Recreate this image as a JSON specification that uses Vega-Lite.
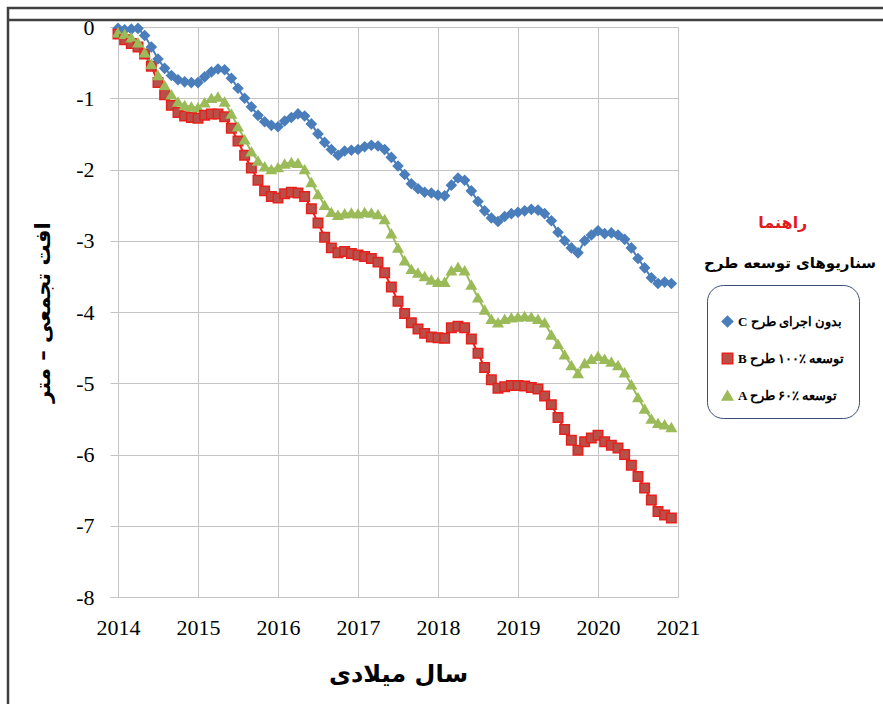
{
  "$schema": "https://vega.github.io/schema/vega-lite/v6.json",
  "autosize": {"type": "none"},
  "width": 560,
  "height": 570,
  "padding": {"left": 118, "top": 27, "right": 205, "bottom": 107},
  "background": "white",
  "config": {
    "view": {"stroke": null},
    "axis": {"labelFont": "Liberation Serif", "labelFontSize": 22, "labelColor": "#000", "grid": true, "gridColor": "#c4c4c4", "gridWidth": 1, "domain": false, "labelFlush": false},
    "legend": {"orient": "none", "legendX": 589, "legendY": 258, "strokeColor": "#3b4f72", "cornerRadius": 16, "padding": 14, "fillColor": "#fff", "rowPadding": 20, "labelFont": "Liberation Serif", "labelFontSize": 13, "labelFontWeight": "bold", "labelColor": "#000", "labelLimit": 200, "symbolSize": 110, "symbolStrokeWidth": 1.5, "titleFontSize": 8, "titlePadding": 8}
  },
  "data": {"values": [
    {"t":2014.000,"C":-0.02,"B":-0.10,"A":-0.08},
    {"t":2014.083,"C":-0.04,"B":-0.18,"A":-0.10},
    {"t":2014.167,"C":-0.03,"B":-0.23,"A":-0.15},
    {"t":2014.250,"C":-0.02,"B":-0.28,"A":-0.22},
    {"t":2014.333,"C":-0.12,"B":-0.38,"A":-0.36},
    {"t":2014.417,"C":-0.28,"B":-0.55,"A":-0.52},
    {"t":2014.500,"C":-0.45,"B":-0.78,"A":-0.68},
    {"t":2014.583,"C":-0.58,"B":-0.95,"A":-0.82},
    {"t":2014.667,"C":-0.68,"B":-1.10,"A":-0.95},
    {"t":2014.750,"C":-0.74,"B":-1.20,"A":-1.05},
    {"t":2014.833,"C":-0.77,"B":-1.25,"A":-1.10},
    {"t":2014.917,"C":-0.78,"B":-1.27,"A":-1.12},
    {"t":2015.000,"C":-0.78,"B":-1.28,"A":-1.13},
    {"t":2015.083,"C":-0.70,"B":-1.24,"A":-1.06},
    {"t":2015.167,"C":-0.63,"B":-1.22,"A":-1.00},
    {"t":2015.250,"C":-0.59,"B":-1.22,"A":-0.98},
    {"t":2015.333,"C":-0.60,"B":-1.26,"A":-1.05},
    {"t":2015.417,"C":-0.72,"B":-1.42,"A":-1.22},
    {"t":2015.500,"C":-0.86,"B":-1.60,"A":-1.40},
    {"t":2015.583,"C":-1.00,"B":-1.80,"A":-1.58},
    {"t":2015.667,"C":-1.12,"B":-1.98,"A":-1.75},
    {"t":2015.750,"C":-1.24,"B":-2.15,"A":-1.88},
    {"t":2015.833,"C":-1.33,"B":-2.30,"A":-1.96},
    {"t":2015.917,"C":-1.38,"B":-2.38,"A":-2.00},
    {"t":2016.000,"C":-1.40,"B":-2.40,"A":-1.97},
    {"t":2016.083,"C":-1.32,"B":-2.34,"A":-1.92},
    {"t":2016.167,"C":-1.27,"B":-2.32,"A":-1.90},
    {"t":2016.250,"C":-1.22,"B":-2.33,"A":-1.91},
    {"t":2016.333,"C":-1.25,"B":-2.38,"A":-2.00},
    {"t":2016.417,"C":-1.36,"B":-2.55,"A":-2.18},
    {"t":2016.500,"C":-1.50,"B":-2.75,"A":-2.35},
    {"t":2016.583,"C":-1.62,"B":-2.95,"A":-2.50},
    {"t":2016.667,"C":-1.72,"B":-3.10,"A":-2.60},
    {"t":2016.750,"C":-1.80,"B":-3.17,"A":-2.64},
    {"t":2016.833,"C":-1.74,"B":-3.15,"A":-2.62},
    {"t":2016.917,"C":-1.73,"B":-3.18,"A":-2.61},
    {"t":2017.000,"C":-1.72,"B":-3.20,"A":-2.62},
    {"t":2017.083,"C":-1.68,"B":-3.22,"A":-2.60},
    {"t":2017.167,"C":-1.66,"B":-3.25,"A":-2.61},
    {"t":2017.250,"C":-1.67,"B":-3.30,"A":-2.63},
    {"t":2017.333,"C":-1.72,"B":-3.45,"A":-2.70},
    {"t":2017.417,"C":-1.83,"B":-3.65,"A":-2.90},
    {"t":2017.500,"C":-1.95,"B":-3.85,"A":-3.10},
    {"t":2017.583,"C":-2.07,"B":-4.02,"A":-3.28},
    {"t":2017.667,"C":-2.20,"B":-4.15,"A":-3.40},
    {"t":2017.750,"C":-2.27,"B":-4.24,"A":-3.45},
    {"t":2017.833,"C":-2.32,"B":-4.30,"A":-3.50},
    {"t":2017.917,"C":-2.33,"B":-4.35,"A":-3.55},
    {"t":2018.000,"C":-2.36,"B":-4.36,"A":-3.58},
    {"t":2018.083,"C":-2.37,"B":-4.37,"A":-3.58},
    {"t":2018.167,"C":-2.22,"B":-4.22,"A":-3.42},
    {"t":2018.250,"C":-2.12,"B":-4.20,"A":-3.37},
    {"t":2018.333,"C":-2.15,"B":-4.22,"A":-3.42},
    {"t":2018.417,"C":-2.30,"B":-4.38,"A":-3.62},
    {"t":2018.500,"C":-2.45,"B":-4.58,"A":-3.80},
    {"t":2018.583,"C":-2.58,"B":-4.78,"A":-3.97},
    {"t":2018.667,"C":-2.68,"B":-4.95,"A":-4.10},
    {"t":2018.750,"C":-2.73,"B":-5.07,"A":-4.15},
    {"t":2018.833,"C":-2.66,"B":-5.05,"A":-4.10},
    {"t":2018.917,"C":-2.62,"B":-5.03,"A":-4.08},
    {"t":2019.000,"C":-2.60,"B":-5.03,"A":-4.07},
    {"t":2019.083,"C":-2.58,"B":-5.04,"A":-4.06},
    {"t":2019.167,"C":-2.56,"B":-5.06,"A":-4.07},
    {"t":2019.250,"C":-2.57,"B":-5.08,"A":-4.10},
    {"t":2019.333,"C":-2.62,"B":-5.18,"A":-4.15},
    {"t":2019.417,"C":-2.72,"B":-5.30,"A":-4.32},
    {"t":2019.500,"C":-2.88,"B":-5.48,"A":-4.45},
    {"t":2019.583,"C":-3.00,"B":-5.65,"A":-4.60},
    {"t":2019.667,"C":-3.10,"B":-5.80,"A":-4.75},
    {"t":2019.750,"C":-3.17,"B":-5.94,"A":-4.86},
    {"t":2019.833,"C":-3.00,"B":-5.82,"A":-4.72},
    {"t":2019.917,"C":-2.92,"B":-5.77,"A":-4.66},
    {"t":2020.000,"C":-2.86,"B":-5.73,"A":-4.62},
    {"t":2020.083,"C":-2.90,"B":-5.82,"A":-4.66},
    {"t":2020.167,"C":-2.89,"B":-5.87,"A":-4.70},
    {"t":2020.250,"C":-2.92,"B":-5.91,"A":-4.75},
    {"t":2020.333,"C":-2.98,"B":-6.00,"A":-4.85},
    {"t":2020.417,"C":-3.10,"B":-6.15,"A":-5.02},
    {"t":2020.500,"C":-3.25,"B":-6.31,"A":-5.20},
    {"t":2020.583,"C":-3.38,"B":-6.47,"A":-5.36},
    {"t":2020.667,"C":-3.52,"B":-6.64,"A":-5.50},
    {"t":2020.750,"C":-3.60,"B":-6.80,"A":-5.56},
    {"t":2020.833,"C":-3.58,"B":-6.85,"A":-5.58},
    {"t":2020.917,"C":-3.60,"B":-6.89,"A":-5.62}
  ]},
  "layer": [
    {
      "transform": [{"fold": ["C", "B", "A"], "as": ["s", "v"]}],
      "layer": [
        {
          "mark": {"type": "line", "strokeWidth": 2},
          "encoding": {
            "x": {"field": "t", "type": "quantitative", "scale": {"domain": [2014, 2021], "nice": false, "zero": false},
                  "axis": {"grid": true, "values": [2014,2015,2016,2017,2018,2019,2020,2021], "labelExpr": "'' + datum.value", "ticks": false, "labelPadding": 20, "title": "سال میلادی", "titleFont": "DejaVu Sans", "titleFontSize": 24, "titleFontWeight": "bold", "titleColor": "#000", "titlePadding": 24}},
            "y": {"field": "v", "type": "quantitative", "scale": {"domain": [-8, 0], "nice": false, "zero": false},
                  "axis": {"grid": true, "values": [0,-1,-2,-3,-4,-5,-6,-7,-8], "labelExpr": "'' + datum.value", "ticks": true, "tickSize": 8, "tickColor": "#c4c4c4", "labelPadding": 16, "title": "افت تجمعی – متر", "titleFont": "DejaVu Sans", "titleFontSize": 21, "titleFontWeight": "bold", "titleColor": "#000", "titlePadding": 22}},
            "stroke": {"field": "s", "type": "nominal", "scale": {"domain": ["C", "B", "A"], "range": ["#4a7ebb", "#e8201c", "#9bbb59"]},
                       "legend": {"title": " ", "labelExpr": "datum.label == 'C' ? 'C بدون اجرای طرح' : datum.label == 'B' ? 'B توسعه ٪۱۰۰ طرح' : 'A توسعه ٪۶۰ طرح'"}}
          }
        },
        {
          "mark": {"type": "point", "filled": true, "size": 90, "strokeWidth": 1.5, "opacity": 1},
          "encoding": {
            "x": {"field": "t", "type": "quantitative"},
            "y": {"field": "v", "type": "quantitative"},
            "stroke": {"field": "s", "type": "nominal"},
            "fill": {"field": "s", "type": "nominal", "scale": {"domain": ["C", "B", "A"], "range": ["#4a7ebb", "#b8504a", "#9bbb59"]},
                     "legend": {"title": " ", "labelExpr": "datum.label == 'C' ? 'C بدون اجرای طرح' : datum.label == 'B' ? 'B توسعه ٪۱۰۰ طرح' : 'A توسعه ٪۶۰ طرح'"}},
            "shape": {"field": "s", "type": "nominal", "scale": {"domain": ["C", "B", "A"], "range": ["diamond", "square", "triangle-up"]},
                      "legend": {"title": " ", "labelExpr": "datum.label == 'C' ? 'C بدون اجرای طرح' : datum.label == 'B' ? 'B توسعه ٪۱۰۰ طرح' : 'A توسعه ٪۶۰ طرح'"}}
          }
        }
      ]
    },
    {
      "data": {"values": [{}]},
      "mark": {"type": "rect", "fill": null, "fillOpacity": 0, "stroke": "#404040", "strokeWidth": 2.5},
      "encoding": {
        "x": {"datum": 2012.625, "type": "quantitative"},
        "x2": {"datum": 2024.5},
        "y": {"datum": 0.267, "type": "quantitative"},
        "y2": {"datum": -10}
      }
    },
    {
      "data": {"values": [{}]},
      "mark": {"type": "rule", "stroke": "#404040", "strokeWidth": 2.5},
      "encoding": {
        "x": {"datum": 2012.625, "type": "quantitative"},
        "x2": {"datum": 2024.5},
        "y": {"datum": 0.1, "type": "quantitative"}
      }
    },
    {
      "data": {"values": [{}]},
      "mark": {"type": "text", "text": "راهنما", "font": "DejaVu Sans", "fontSize": 16, "fontWeight": "bold", "fill": "#e31a1c", "align": "center", "baseline": "middle"},
      "encoding": {
        "x": {"datum": 2022.31, "type": "quantitative"},
        "y": {"datum": -2.75, "type": "quantitative"}
      }
    },
    {
      "data": {"values": [{}]},
      "mark": {"type": "text", "text": "سناریوهای توسعه طرح", "font": "DejaVu Sans", "fontSize": 15, "fontWeight": "bold", "fill": "#000", "align": "center", "baseline": "middle"},
      "encoding": {
        "x": {"datum": 2022.4, "type": "quantitative"},
        "y": {"datum": -3.31, "type": "quantitative"}
      }
    }
  ]
}
